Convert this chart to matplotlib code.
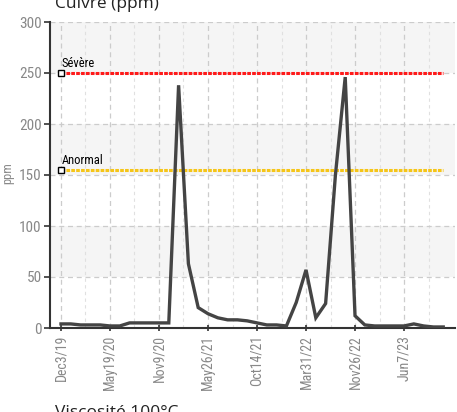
import matplotlib
matplotlib.use("Agg")
import matplotlib.pyplot as plt
import numpy as np

# Cuivre (ppm) par échantillon
dates = ["Dec3/19", "May19/20", "Nov9/20", "May26/21",
         "Oct14/21", "Mar31/22", "Nov26/22", "Jun7/23"]
cuivre = [4, 4, 3, 3, 3, 2, 2, 5, 5, 5,
          5, 5, 238, 63, 20, 14, 10, 8, 8, 7,
          5, 3, 3, 2, 25, 57, 10, 24, 150, 246,
          12, 3, 2, 2, 2, 2, 4, 2, 1, 1]
severe = 250
anormal = 155

narrow = ['Roboto Condensed', 'Liberation Sans Narrow', 'Roboto', 'DejaVu Sans']

fig = plt.figure(figsize=(4.57, 4.12), dpi=100)
ax = fig.add_axes([50 / 457, (412 - 328) / 412, 405 / 457, 306 / 412])

x = np.arange(len(cuivre))
ax.set_xlim(-1.12, 40.2)
ax.set_ylim(0, 300)

# bandes grises
for lo in (50, 150, 250):
    ax.axhspan(lo, lo + 50, color="#f5f5f5", zorder=0, lw=0)

ax.set_yticks(np.arange(0, 301, 50))
ax.set_xticks(np.arange(0, 40, 5))
ax.set_xticks(np.arange(0, 40, 2.5), minor=True)
ax.set_xticklabels(dates, rotation=90, family=narrow, fontsize=10, color="#888888")
for t in ax.get_yticklabels():
    t.set_family(narrow)
    t.set_fontsize(11)
    t.set_color("#888888")

ax.grid(True, which="major", color="#cccccc", ls=(0, (4, 3)), lw=0.9)
ax.grid(True, which="minor", axis="x", color="#e0e0e0", ls=(0, (3, 3)), lw=0.8)
ax.set_axisbelow(True)

for s in ("top", "right"):
    ax.spines[s].set_visible(False)
ax.spines["left"].set_color("#333333")
ax.spines["bottom"].set_color("#333333")
ax.spines["left"].set_linewidth(1.5)
ax.spines["bottom"].set_linewidth(1.5)
ax.tick_params(axis="y", length=4, width=1.2, color="#333333", pad=2)
ax.tick_params(axis="x", which="major", length=4, width=1.2, color="#333333",
               direction="inout", pad=3)
ax.tick_params(axis="x", which="minor", length=0)

# limites
ax.plot([0, x[-1]], [severe, severe], color="#ff1a1a", lw=2.2, ls=(0, (1.2, 0.4)), zorder=3)
ax.plot([0, x[-1]], [anormal, anormal], color="#f5c518", lw=2.2, ls=(0, (1.2, 0.4)), zorder=3)
ax.plot([0, 0], [severe, anormal], ls="none", marker="s", ms=4.5,
        mfc="white", mec="black", mew=1, zorder=5)
ax.text(0.1, severe + 3, "Sévère", family=narrow, fontsize=9, color="black", va="bottom")
ax.text(0.1, anormal + 3, "Anormal", family=narrow, fontsize=9, color="black", va="bottom")

ax.plot(x, cuivre, color="#444444", lw=2.4, zorder=4, solid_joinstyle="miter")

ax.set_ylabel("ppm", family=narrow, fontsize=9, color="#888888")
ax.yaxis.set_label_coords(-36 / 405, (328 - 173) / 306)

# titres coupés (graphiques voisins)
fig.text(55 / 457, 1 - 8 / 412, "Cuivre (ppm)", fontsize=12.5, color="#222222",
         family="Open Sans", va="baseline")
fig.text(55 / 457, 1 - 417 / 412, "Viscosité 100°C", fontsize=12.5, color="#222222",
         family="Open Sans", va="baseline")

fig.savefig("out.png", dpi=100)
